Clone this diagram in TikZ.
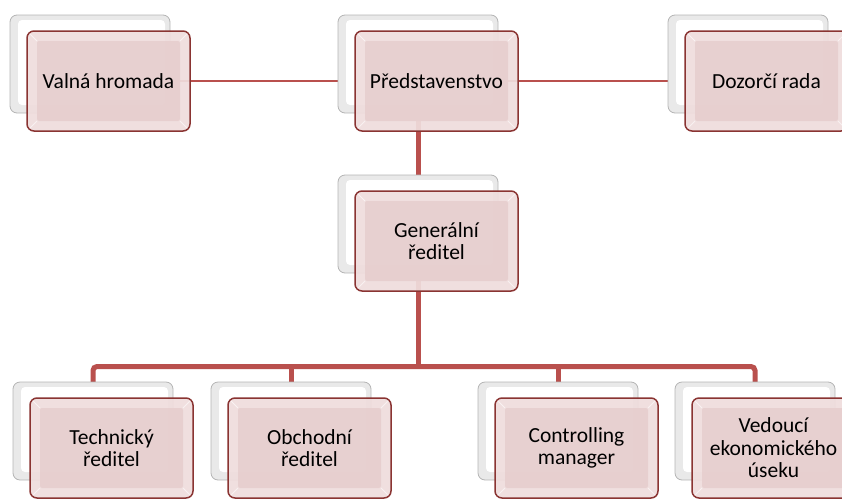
\documentclass[tikz,border=0pt]{standalone}
\usepackage{fontspec}
\setmainfont{Carlito}
\usetikzlibrary{calc}
\pgfdeclarelayer{background}
\pgfsetlayers{background,main}
\definecolor{lineRed}{HTML}{B9504D}
\definecolor{frameRed}{HTML}{8A3432}
\definecolor{pinkOuter}{HTML}{EFDDDD}
\definecolor{pinkInner}{HTML}{E7CFCF}
\definecolor{greyFrame}{HTML}{B4B4B4}
\definecolor{greyOuter}{HTML}{E9E9E9}
\tikzset{
  backbox/.style={draw=greyFrame, line width=0.8pt, rounded corners=7pt,
    fill=greyOuter, minimum width=160pt, minimum height=98pt, inner sep=0pt,
    path picture={\fill[white, rounded corners=4pt]
      ([shift={(8pt,-5pt)}]path picture bounding box.north west) rectangle
      ([shift={(-5pt,8pt)}]path picture bounding box.south east);}},
  frontbox/.style={draw=frameRed, line width=1.5pt, rounded corners=7pt,
    fill=pinkOuter, fill opacity=0.93, text opacity=1,
    minimum width=163pt, minimum height=100pt, inner sep=0pt,
    align=center, font=\fontsize{21.5pt}{22.5pt}\selectfont,
    path picture={\fill[pinkInner, rounded corners=2pt]
      ([shift={(10pt,-10pt)}]path picture bounding box.north west) rectangle
      ([shift={(-10pt,10pt)}]path picture bounding box.south east);
      \draw[white, line width=0.8pt, opacity=0.6]
      (path picture bounding box.north west) -- ++(10pt,-10pt)
      (path picture bounding box.south west) -- ++(10pt,10pt)
      (path picture bounding box.north east) -- ++(-10pt,-10pt)
      (path picture bounding box.south east) -- ++(-10pt,10pt);}},
  thinline/.style={draw=lineRed, line width=2pt},
  thickline/.style={draw=lineRed, line width=5pt, rounded corners=4pt},
}
% #1 name, #2 back left x, #3 back top y, #4 text
\newcommand\orgunit[4]{%
  \node[backbox] (#1b) at (#2pt+80pt, -#3pt-49pt) {};
  \node[frontbox] (#1) at (#2pt+98.5pt, -#3pt-66pt) {#4};
}
\begin{document}
\begin{tikzpicture}
\useasboundingbox (0,0) rectangle (842pt,-498pt);
\orgunit{vh}{10}{15}{Valná hromada}
\orgunit{pr}{338}{15}{Představenstvo}
\orgunit{dr}{668}{15}{Dozorčí rada}
\orgunit{gr}{338}{175}{Generální\\ředitel}
\orgunit{tr}{13}{382}{Technický\\ředitel}
\orgunit{obr}{211}{382}{Obchodní\\ředitel}
\orgunit{cm}{478}{382}{Controlling\\manager}
\orgunit{ve}{675}{382}{Vedoucí\\ekonomického\\úseku}
\coordinate (bus) at (0,-366.5pt);
\begin{pgfonlayer}{background}
  \draw[thinline] (vh.center) -- (pr.center);
  \draw[thinline] (pr.center) -- (dr.center);
  \draw[thickline] (prb.center) -- (grb.center);
  \draw[thickline] (grb.center) -- (grb.center |- bus);
  \draw[thickline] (trb.center) -- (trb.center |- bus) -- (veb.center |- bus) -- (veb.center);
  \draw[thickline] (obrb.center) -- (obrb.center |- bus);
  \draw[thickline] (cmb.center) -- (cmb.center |- bus);
\end{pgfonlayer}
\end{tikzpicture}
\end{document}
